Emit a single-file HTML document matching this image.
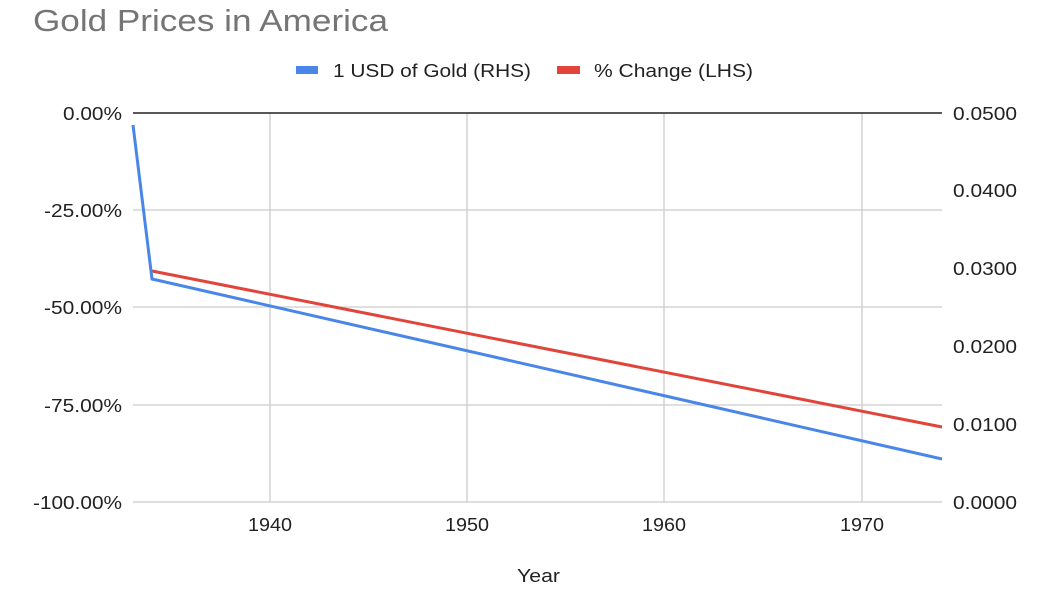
<!DOCTYPE html>
<html><head><meta charset="utf-8"><style>
html,body{margin:0;padding:0;background:#fff;}
svg{display:block;font-family:"Liberation Sans",Arial,sans-serif;}
</style></head><body>
<svg width="1050" height="589" viewBox="0 0 1050 589">
<rect width="1050" height="589" fill="#fff"/>
<text x="33" y="31" font-size="31" fill="#757575" textLength="355" lengthAdjust="spacingAndGlyphs">Gold Prices in America</text>
<rect x="296" y="66" width="22" height="8" fill="#4a86e8"/>
<text x="333" y="77" font-size="18" fill="#222" textLength="198" lengthAdjust="spacingAndGlyphs">1 USD of Gold (RHS)</text>
<rect x="557" y="66" width="23" height="8" fill="#e0443a"/>
<text x="594" y="77" font-size="18" fill="#222" textLength="159" lengthAdjust="spacingAndGlyphs">% Change (LHS)</text>
<g stroke="#ccc" stroke-width="1.3">
<line x1="133" y1="210" x2="942" y2="210"/>
<line x1="133" y1="307" x2="942" y2="307"/>
<line x1="133" y1="405" x2="942" y2="405"/>
<line x1="133" y1="502" x2="942" y2="502"/>
<line x1="270" y1="113" x2="270" y2="502"/>
<line x1="467" y1="113" x2="467" y2="502"/>
<line x1="664" y1="113" x2="664" y2="502"/>
<line x1="862" y1="113" x2="862" y2="502"/>
</g>
<line x1="133" y1="113" x2="942" y2="113" stroke="#222" stroke-width="1.5"/>
<g font-size="18" fill="#222" text-anchor="end">
<text x="122" y="120" textLength="59" lengthAdjust="spacingAndGlyphs">0.00%</text>
<text x="122" y="217" textLength="78" lengthAdjust="spacingAndGlyphs">-25.00%</text>
<text x="122" y="314" textLength="78" lengthAdjust="spacingAndGlyphs">-50.00%</text>
<text x="122" y="412" textLength="78" lengthAdjust="spacingAndGlyphs">-75.00%</text>
<text x="122" y="509" textLength="89" lengthAdjust="spacingAndGlyphs">-100.00%</text>
</g>
<g font-size="18" fill="#222">
<text x="953" y="120" textLength="64" lengthAdjust="spacingAndGlyphs">0.0500</text>
<text x="953" y="197" textLength="64" lengthAdjust="spacingAndGlyphs">0.0400</text>
<text x="953" y="275" textLength="64" lengthAdjust="spacingAndGlyphs">0.0300</text>
<text x="953" y="353" textLength="64" lengthAdjust="spacingAndGlyphs">0.0200</text>
<text x="953" y="431" textLength="64" lengthAdjust="spacingAndGlyphs">0.0100</text>
<text x="953" y="509" textLength="64" lengthAdjust="spacingAndGlyphs">0.0000</text>
</g>
<g font-size="18" fill="#222">
<text x="248" y="531" textLength="44" lengthAdjust="spacingAndGlyphs">1940</text>
<text x="445" y="531" textLength="44" lengthAdjust="spacingAndGlyphs">1950</text>
<text x="642" y="531" textLength="44" lengthAdjust="spacingAndGlyphs">1960</text>
<text x="840" y="531" textLength="44" lengthAdjust="spacingAndGlyphs">1970</text>
<text x="517" y="582" textLength="43" lengthAdjust="spacingAndGlyphs">Year</text>
</g>
<polyline points="152,271 942,427" fill="none" stroke="#e0443a" stroke-width="3"/>
<polyline points="133,125 152,279 942,459" fill="none" stroke="#4a86e8" stroke-width="3"/>
</svg>
</body></html>
